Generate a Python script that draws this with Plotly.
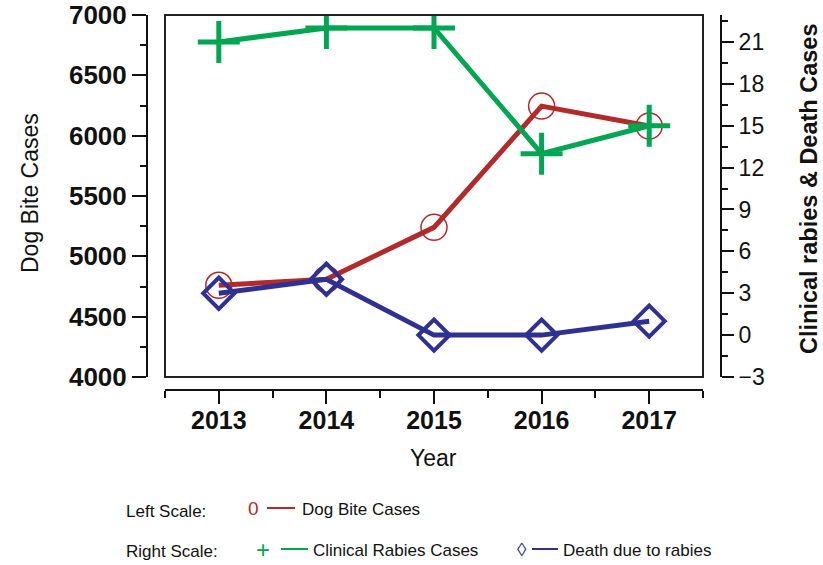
import plotly.graph_objects as go

# Yearly surveillance data
years = [2013, 2014, 2015, 2016, 2017]
dog_bite_cases = [4760, 4810, 5240, 6245, 6080]      # left scale
clinical_rabies_cases = [21, 22, 22, 13, 15]          # right scale
deaths_due_to_rabies = [3, 4, 0, 0, 1]                # right scale

left_ticks = [4000, 4500, 5000, 5500, 6000, 6500, 7000]
right_ticks = [-3, 0, 3, 6, 9, 12, 15, 18, 21]

RED = "#B22A2A"
GREEN = "#00A651"
BLUE = "#2E3192"
FONT = "Liberation Sans, Arial, sans-serif"

W, H = 823, 565


def px(x):
    return x / W


def py(y):
    return 1 - y / H


fig = go.Figure()

fig.add_trace(go.Scatter(
    x=years, y=dog_bite_cases, yaxis="y", mode="lines+markers",
    line=dict(color=RED, width=5),
    marker=dict(symbol="circle-open", size=26, color=RED, line=dict(width=1.5, color=RED)),
    name="Dog Bite Cases", showlegend=False,
))
fig.add_trace(go.Scatter(
    x=years, y=clinical_rabies_cases, yaxis="y2", mode="lines+markers",
    line=dict(color=GREEN, width=5),
    marker=dict(symbol="cross-thin", size=30, color=GREEN, line=dict(width=5, color=GREEN)),
    name="Clinical Rabies Cases", showlegend=False,
))
fig.add_trace(go.Scatter(
    x=years, y=deaths_due_to_rabies, yaxis="y2", mode="lines+markers",
    line=dict(color=BLUE, width=5),
    marker=dict(symbol="diamond-open", size=24, color=BLUE, line=dict(width=4, color=BLUE)),
    name="Death due to rabies", showlegend=False,
))

axis_common = dict(showgrid=False, zeroline=False, showline=True, linecolor="#111",
                   linewidth=2, ticks="outside", tickcolor="#111", tickwidth=2,
                   automargin=False)

fig.update_layout(
    width=W, height=H,
    margin=dict(l=0, r=0, t=0, b=0, autoexpand=False),
    paper_bgcolor="white", plot_bgcolor="white",
    font=dict(family=FONT, color="#111"),
    xaxis=dict(
        **axis_common,
        domain=[px(165), px(703)], anchor="free", position=py(390),
        range=[2012.5, 2017.5], tickvals=years, ticklen=13,
        tickfont=dict(size=25, weight="bold", family=FONT),
        minor=dict(ticks="outside", dtick=0.5, tick0=2012.5, ticklen=7,
                   tickwidth=2, tickcolor="#111"),
        ticklabelstandoff=-5,
    ),
    yaxis=dict(
        **axis_common,
        domain=[py(377), py(15)], anchor="free", position=px(147),
        range=[4000, 7000], tickvals=left_ticks, ticklen=14,
        tickfont=dict(size=26, weight="bold", family=FONT),
        minor=dict(ticks="outside", dtick=250, ticklen=6, tickwidth=2, tickcolor="#111"),
    ),
    yaxis2=dict(
        **axis_common,
        domain=[py(377), py(15)], anchor="free", position=px(721),
        overlaying="y", side="right",
        range=[-3, 22.93], tickvals=right_ticks, ticklen=12,
        tickfont=dict(size=23, family=FONT),
        minor=dict(ticks="outside", dtick=1.5, tick0=-3, ticklen=6, tickwidth=2, tickcolor="#111"),
    ),
)

# Plot-area frame
fig.add_shape(type="rect", xref="x domain", yref="y domain", x0=0, x1=1, y0=0, y1=1,
              line=dict(color="#222", width=2), layer="above")


def label(text, x, y, size, xanchor="center", **kw):
    fig.add_annotation(text=text, x=px(x), y=py(y), xref="paper", yref="paper",
                       xanchor=xanchor, yanchor="middle", showarrow=False,
                       font=dict(size=size, family=FONT, **kw.pop("font", {})), **kw)


# Axis titles
label("Dog Bite Cases", 30, 193, 23, textangle=-90)
label("Clinical rabies & Death Cases", 809, 189, 23.5, textangle=-90,
      font=dict(weight="bold"))
label("Year", 433, 458, 23)

# Legend block
LEG = 17
label("Left Scale:", 124, 511, LEG, xanchor="left")
label("Right Scale:", 124, 551, LEG, xanchor="left")

legend_items = [
    # (glyph, glyph x, glyph size, line x0, line x1, text, text x, row y, colour)
    ("0", 253, 19, 267, 295, "Dog Bite Cases", 300, 508, RED),
    ("+", 263, 24, 281, 308, "Clinical Rabies Cases", 311, 549, GREEN),
    ("\u25CA", 522, 19, 532, 558, "Death due to rabies", 561, 549, BLUE),
]
for glyph, gx, gs, lx0, lx1, text, tx, ry, col in legend_items:
    label(glyph, gx, ry, gs, font=dict(color=col))
    fig.add_shape(type="line", xref="paper", yref="paper", x0=px(lx0), x1=px(lx1),
                  y0=py(ry), y1=py(ry), line=dict(color=col, width=2))
    label(text, tx, ry + 1, LEG, xanchor="left")

fig.write_html("out.html")
